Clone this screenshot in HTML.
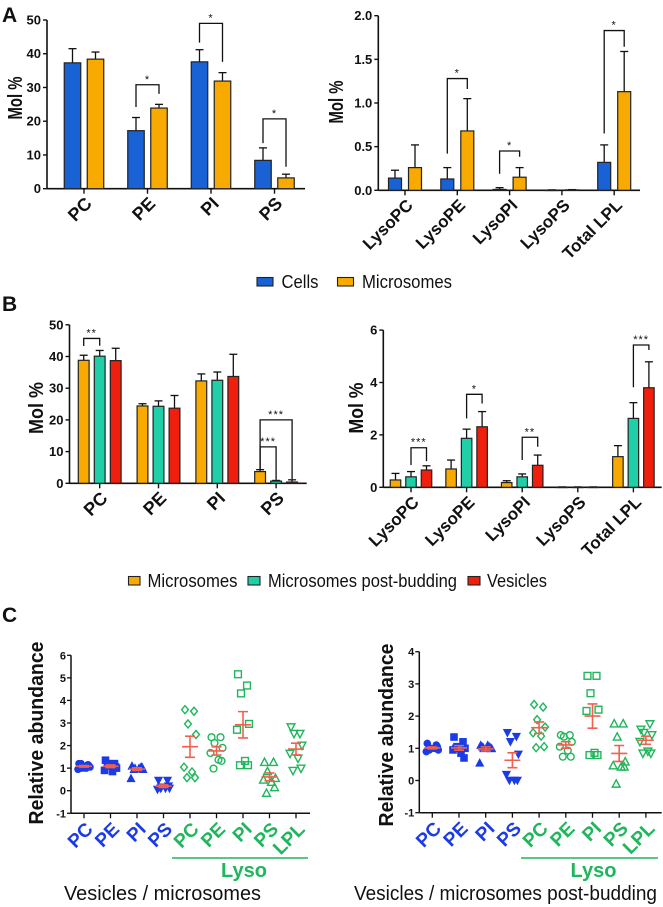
<!DOCTYPE html>
<html><head><meta charset="utf-8"><style>
html,body{margin:0;padding:0;background:#fff;}
svg{display:block;font-family:"Liberation Sans",Arial,sans-serif;}
</style></head><body>
<svg id="fig" width="663" height="907" viewBox="0 0 663 907" xmlns="http://www.w3.org/2000/svg"></svg>
<script>
// ---------- Panel A left ----------
const aLCats=['PC','PE','PI','PS'];
const aLCells=[37.3,17.2,37.6,8.4];
const aLCellsErr=[41.5,21.1,41.2,12.1];
const aLMicro=[38.4,23.9,31.9,3.2];
const aLMicroErr=[40.5,25.0,34.4,4.3];
const aLTicks=[0,10,20,30,40,50];
const aLSigCat=[1,2,3];const aLSigFrom=[0,0,0];const aLSigTo=[1,1,1];
const aLSigLevel=[30.8,49,20.7];const aLSigL=[24.2,43.3,13.5];const aLSigR=[28.1,37.6,6.5];const aLSigText=['*','*','*'];
// ---------- Panel A right ----------
const aRCats=['LysoPC','LysoPE','LysoPI','LysoPS','Total LPL'];
const aRCells=[0.14,0.13,0.01,0.003,0.32];
const aRCellsErr=[0.23,0.26,0.03,0.005,0.52];
const aRMicro=[0.26,0.68,0.15,0.005,1.13];
const aRMicroErr=[0.52,1.05,0.26,0.008,1.59];
const aRTicks=[0,0.5,1.0,1.5,2.0];
const aRSigCat=[1,2,4];const aRSigFrom=[0,0,0];const aRSigTo=[1,1,1];
const aRSigLevel=[1.28,0.45,1.83];const aRSigL=[0.42,0.19,0.65];const aRSigR=[1.16,0.385,1.645];const aRSigText=['*','*','*'];
// ---------- Panel B left ----------
const bLCats=['PC','PE','PI','PS'];
const bLMicro=[38.8,24.4,32.3,3.7];
const bLMicroErr=[40.4,25.1,34.5,4.3];
const bLPost=[40.1,24.3,32.5,0.7];
const bLPostErr=[41.9,26.0,35.1,0.9];
const bLVes=[38.7,23.7,33.7,0.4];
const bLVesErr=[42.6,27.7,40.7,1.1];
const bLTicks=[0,10,20,30,40,50];
const bLSigCat=[0,3,3];const bLSigFrom=[0,0,0];const bLSigTo=[1,1,2];
const bLSigLevel=[45.7,11.5,20];const bLSigL=[43.3,4.3,4.3];const bLSigR=[43.4,1.1,1.3];const bLSigText=['**','***','***'];
// ---------- Panel B right ----------
const bRCats=['LysoPC','LysoPE','LysoPI','LysoPS','Total LPL'];
const bRMicro=[0.28,0.7,0.18,0.01,1.17];
const bRMicroErr=[0.53,1.04,0.25,0.015,1.59];
const bRPost=[0.4,1.87,0.4,0.01,2.63];
const bRPostErr=[0.6,2.22,0.51,0.015,3.23];
const bRVes=[0.66,2.31,0.84,0.01,3.8];
const bRVesErr=[0.82,2.89,1.23,0.015,4.79];
const bRTicks=[0,2,4,6];
const bRSigCat=[0,1,2,4];const bRSigFrom=[1,1,1,1];const bRSigTo=[2,2,2,2];
const bRSigLevel=[1.51,3.55,1.91,5.43];const bRSigL=[0.85,2.63,1.04,3.82];const bRSigR=[1.0,3.2,1.55,5.24];const bRSigText=['***','*','**','***'];
// ---------- Panel C ----------
const cCats=['PC','PE','PI','PS','PC','PE','PI','PS','LPL'];
const cLeftTicks=[-1,0,1,2,3,4,5,6];
const cRightTicks=[-1,0,1,2,3,4];
const cLeftVals=[
 [1.2,1.15,1.0,1.05,0.95,1.0,1.1,1.2],
 [1.35,1.2,1.1,1.0,0.9,0.85,1.05,1.2],
 [1.1,1.05,1.0,0.95,0.55,1.0,1.05,0.95],
 [0.45,0.45,0.15,0.1,0.05,0.1,0.2,0.1],
 [3.59,3.52,2.96,2.49,1.04,0.83,0.58,0.58],
 [2.37,2.37,2.11,1.9,1.67,1.37,1.32,0.98],
 [5.16,4.66,4.31,2.96,2.70,1.32,1.13,1.13],
 [1.27,1.27,0.86,0.56,0.49,0.39,0.15,-0.1],
 [2.81,2.52,2.52,2.0,1.64,1.42,0.98,0.88]];
const cRightVals=[
 [1.15,1.1,1.0,0.95,0.9,1.0,1.05,0.95],
 [1.35,1.2,1.05,1.0,0.95,0.85,0.7,1.0],
 [1.1,1.05,1.0,1.0,0.55,1.1,1.0,1.05],
 [1.48,1.36,1.2,0.81,0.18,0.0,0.0,0.0],
 [2.36,2.28,1.89,1.66,1.48,1.38,1.05,1.02],
 [1.41,1.41,1.36,1.2,1.05,0.93,0.74,0.74],
 [3.25,3.25,2.71,2.2,2.16,0.86,0.79,0.79],
 [1.77,1.77,1.36,0.59,0.47,0.43,0.43,-0.1],
 [1.58,1.75,1.48,1.41,1.2,0.9,0.84,0.84]];

const NS='http://www.w3.org/2000/svg';
const svg=document.getElementById('fig');
function mk(tag,attrs,parent){const e=document.createElementNS(NS,tag);for(const k in attrs)e.setAttribute(k,attrs[k]);(parent||svg).appendChild(e);return e;}
function txt(s,attrs,parent){const e=mk('text',attrs,parent);e.textContent=s;return e;}

const BLUE='#1862d6',ORANGE='#f8aa00',TEAL='#1ecfa8',RED='#f01e0c';

function barChart(nm,cfg){
  const g=mk('g',{});
  
  
  const yS=v=>cfg.y0-v*cfg.ppu;
  const xS=i=>cfg.c0+i*cfg.sp;
  // axes
  const ya=mk('line',{x1:cfg.ax,y1:yS(cfg.ticks[cfg.ticks.length-1]),x2:cfg.ax,y2:cfg.y0,stroke:'#111','stroke-width':1.6},g);
  
  
  const xa=mk('line',{x1:cfg.ax,y1:cfg.y0,x2:cfg.xend,y2:cfg.y0,stroke:'#111','stroke-width':1.6},g);
  
  
  cfg.ticks.forEach(t=>{
    mk('line',{x1:cfg.ax-4,y1:yS(t),x2:cfg.ax,y2:yS(t),stroke:'#111','stroke-width':1.4},g);
    const tl=txt(cfg.fmt(t),{x:cfg.ax-6,y:yS(t)+4.5,'text-anchor':'end','font-size':13,'font-weight':'bold',fill:'#111'},g);
    
    
  });
  cfg.cats.forEach((c,i)=>{
    const x=xS(i);
    mk('line',{x1:x,y1:cfg.y0,x2:x,y2:cfg.y0+5,stroke:'#111','stroke-width':1.4},g);
    const bx=x+9,by=cfg.y0+16;
    const cl=txt(c,{x:bx,y:by,'text-anchor':'end','font-size':cfg.lfs,'font-weight':'bold',fill:'#111',transform:`rotate(-45 ${bx} ${by})`},g);
    
    
    cfg.series.forEach((s,k)=>{
      const cx=x+cfg.off[k];
      const v=s.vals[i],e=s.errs[i];
      mk('line',{x1:cx,y1:yS(v),x2:cx,y2:yS(e),stroke:'#111','stroke-width':1.3},g);
      mk('line',{x1:cx-4,y1:yS(e),x2:cx+4,y2:yS(e),stroke:'#111','stroke-width':1.3},g);
      const b=mk('rect',{x:cx-cfg.bw/2,y:yS(v),width:cfg.bw,height:Math.max(0.5,v*cfg.ppu),fill:s.color,stroke:'#222','stroke-width':1.2},g);
      
      
    });
  });
  cfg.sig.cat.forEach((c,j)=>{
    const x1=xS(c)+cfg.off[cfg.sig.from[j]],x2=xS(c)+cfg.off[cfg.sig.to[j]];
    const ly=yS(cfg.sig.level[j]);
    const p=mk('path',{d:`M${x1},${yS(cfg.sig.l[j])}V${ly}H${x2}V${yS(cfg.sig.r[j])}`,fill:'none',stroke:'#111','stroke-width':1.3},g);
    
    
    const st=txt(cfg.sig.text[j],{x:(x1+x2)/2,y:ly-2,'text-anchor':'middle','font-size':11,fill:'#111','letter-spacing':1},g);
    
    
  });
  const tt=txt('Mol %',{x:cfg.tx,y:cfg.ty+7,'text-anchor':'middle','font-size':20,'font-weight':'bold',fill:'#111',textLength:cfg.tlen,lengthAdjust:'spacingAndGlyphs',transform:`rotate(-90 ${cfg.tx} ${cfg.ty})`},g);
  
  
}
const f0=t=>String(t), f1=t=>t.toFixed(1);

barChart('chart-a-phospholipids',{ax:47,xend:305,y0:188.7,ppu:3.374,ticks:aLTicks,fmt:f0,cats:aLCats,c0:84,sp:63.5,off:[-11.5,11.5],bw:16.5,lfs:18,
 series:[{name:'cells',vals:aLCells,errs:aLCellsErr,color:BLUE},{name:'microsomes',vals:aLMicro,errs:aLMicroErr,color:ORANGE}],
 sig:{cat:aLSigCat,from:aLSigFrom,to:aLSigTo,level:aLSigLevel,l:aLSigL,r:aLSigR,text:aLSigText},tx:15,ty:98,tlen:43});
barChart('chart-a-lysophospholipids',{ax:378.3,xend:640,y0:190.3,ppu:87.3,ticks:aRTicks,fmt:f1,cats:aRCats,c0:405,sp:52.3,off:[-10,10],bw:13,lfs:17,
 series:[{name:'cells',vals:aRCells,errs:aRCellsErr,color:BLUE},{name:'microsomes',vals:aRMicro,errs:aRMicroErr,color:ORANGE}],
 sig:{cat:aRSigCat,from:aRSigFrom,to:aRSigTo,level:aRSigLevel,l:aRSigL,r:aRSigR,text:aRSigText},tx:336,ty:102,tlen:43});
barChart('chart-b-phospholipids',{ax:69.5,xend:306.7,y0:483.3,ppu:3.17,ticks:bLTicks,fmt:f0,cats:bLCats,c0:99.7,sp:58.8,off:[-16,0,16],bw:10.8,lfs:18,
 series:[{name:'microsomes',vals:bLMicro,errs:bLMicroErr,color:ORANGE},{name:'post-budding',vals:bLPost,errs:bLPostErr,color:TEAL},{name:'vesicles',vals:bLVes,errs:bLVesErr,color:RED}],
 sig:{cat:bLSigCat,from:bLSigFrom,to:bLSigTo,level:bLSigLevel,l:bLSigL,r:bLSigR,text:bLSigText},tx:36,ty:408,tlen:52});
barChart('chart-b-lysophospholipids',{ax:383.3,xend:661.7,y0:487.3,ppu:26.2,ticks:bRTicks,fmt:f0,cats:bRCats,c0:411,sp:55.6,off:[-15.5,0,15.5],bw:10.5,lfs:17,
 series:[{name:'microsomes',vals:bRMicro,errs:bRMicroErr,color:ORANGE},{name:'post-budding',vals:bRPost,errs:bRPostErr,color:TEAL},{name:'vesicles',vals:bRVes,errs:bRVesErr,color:RED}],
 sig:{cat:bRSigCat,from:bRSigFrom,to:bRSigTo,level:bRSigLevel,l:bRSigL,r:bRSigR,text:bRSigText},tx:356,ty:408,tlen:51});

// Panel letters
[['A',2,22],['B',2,311],['C',2,622]].forEach(([s,x,y])=>{
  const t=txt(s,{x:x,y:y,'font-size':21,'font-weight':'bold',fill:'#111'});
  
  
});

// Legends
function legend(nm,items,cy){
  const g=mk('g',{});
  
  
  items.forEach(it=>{
    const r=mk('rect',{x:it.bx,y:cy-4,width:it.bw,height:8.5,fill:it.color,stroke:'#222','stroke-width':1.1},g);
    
    
    const t=txt(it.label,{x:it.tx,y:cy+6.5,'font-size':18,fill:'#111',textLength:it.tl,lengthAdjust:'spacingAndGlyphs'},g);
    
    
  });
}
legend('legend-a',[{bx:257,bw:16,color:BLUE,label:'Cells',tx:281.5,tl:37},{bx:337.5,bw:16,color:ORANGE,label:'Microsomes',tx:362,tl:90}],281.5);
legend('legend-b',[{bx:128.5,bw:11.5,color:ORANGE,label:'Microsomes',tx:147.5,tl:90},{bx:248,bw:12,color:TEAL,label:'Microsomes post-budding',tx:268,tl:189},{bx:468,bw:12,color:RED,label:'Vesicles',tx:487,tl:60}],580.5);

// Panel C scatter
const jit=[-5,4,-2,6,-6,2,5,-3];
function marker(g,shape,x,y,col){
  let e;const s=3.4;
  const filled=shape.indexOf('o')!==0;
  const fill=filled?col:'none';
  const common={fill:fill,stroke:col,'stroke-width':filled?0.8:1.4};
  const sh=filled?shape:shape.slice(1);
  if(sh==='circle') e=mk('circle',Object.assign({cx:x,cy:y,r:s},common),g);
  else if(sh==='square') e=mk('rect',Object.assign({x:x-s,y:y-s,width:2*s,height:2*s},common),g);
  else if(sh==='tri') e=mk('path',Object.assign({d:`M${x},${y-s-0.5}L${x+s+0.5},${y+s}L${x-s-0.5},${y+s}Z`},common),g);
  else if(sh==='tridown') e=mk('path',Object.assign({d:`M${x-s-0.5},${y-s}L${x+s+0.5},${y-s}L${x},${y+s+0.5}Z`},common),g);
  else e=mk('path',Object.assign({d:`M${x},${y-s-0.6}L${x+s},${y}L${x},${y+s+0.6}L${x-s},${y}Z`},common),g);
  
  
}
const shapes=['circle','square','tri','tridown','odiamond','ocircle','osquare','otri','otridown'];
function scatter(nm,cfg){
  const g=mk('g',{});
  
  
  const yS=v=>cfg.y0-v*cfg.ppu;
  const xS=i=>cfg.c0+i*cfg.sp;
  const top=cfg.ticks[cfg.ticks.length-1],bot=cfg.ticks[0];
  const ya=mk('line',{x1:cfg.ax,y1:yS(top),x2:cfg.ax,y2:yS(bot),stroke:'#111','stroke-width':1.5},g);
  
  
  const xa=mk('line',{x1:cfg.ax,y1:yS(bot),x2:cfg.xend,y2:yS(bot),stroke:'#111','stroke-width':1.5},g);
  
  
  cfg.ticks.forEach(t=>{
    mk('line',{x1:cfg.ax-4,y1:yS(t),x2:cfg.ax,y2:yS(t),stroke:'#111','stroke-width':1.3},g);
    const tl=txt(String(t),{x:cfg.ax-5,y:yS(t)+4,'text-anchor':'end','font-size':11,'font-weight':'bold',fill:'#111'},g);
    
    
  });
  const axY=yS(bot);
  cfg.cats.forEach((c,i)=>{
    const x=xS(i);
    mk('line',{x1:x,y1:axY,x2:x,y2:axY+5,stroke:'#111','stroke-width':1.3},g);
    const col=i<4?'#1a3be6':'#1fb65c';
    const bx=x+10,by=axY+17;
    const cl=txt(c,{x:bx,y:by,'text-anchor':'end','font-size':19,'font-weight':'bold',fill:col,transform:`rotate(-45 ${bx} ${by})`},g);
    
    
    const vals=cfg.vals[i];
    const col2=i<4?'#1a3be6':'#1fb65c';
    vals.forEach((v,k)=>marker(g,shapes[i],x+jit[k],yS(v),col2));
    const n=vals.length,m=vals.reduce((a,b)=>a+b,0)/n;
    const sd=Math.sqrt(vals.reduce((a,b)=>a+(b-m)*(b-m),0)/(n-1)),se=sd/Math.sqrt(n);
    const ms=mk('path',{d:`M${x-8},${yS(m)}H${x+8}M${x},${yS(m+se)}V${yS(m-se)}M${x-5},${yS(m+se)}H${x+5}M${x-5},${yS(m-se)}H${x+5}`,stroke:'#f0604e','stroke-width':1.6,fill:'none'},g);
    
    
  });
  const ll=mk('line',{x1:cfg.lx1,y1:858,x2:cfg.lx2,y2:858,stroke:'#1fb65c','stroke-width':1.5},g);
  
  
  const lt=txt('Lyso',{x:(cfg.lx1+cfg.lx2)/2+4,y:877,'text-anchor':'middle','font-size':20,'font-weight':'bold',fill:'#1fb65c'},g);
  
  
  const sub=txt(cfg.sub,{x:cfg.sx,y:900,'font-size':20,fill:'#111',textLength:cfg.sl,lengthAdjust:'spacingAndGlyphs'},g);
  
  
  const tt=txt('Relative abundance',{x:cfg.tx,y:cfg.ty+7,'text-anchor':'middle','font-size':20,'font-weight':'bold',fill:'#111',textLength:183,lengthAdjust:'spacingAndGlyphs',transform:`rotate(-90 ${cfg.tx} ${cfg.ty})`},g);
  
  
}
scatter('chart-c-vesicles-vs-microsomes',{ax:71,xend:310,y0:790.7,ppu:22.57,ticks:cLeftTicks,cats:cCats,vals:cLeftVals,c0:84,sp:26.5,lx1:172,lx2:308,sub:'Vesicles / microsomes',sx:64,sl:197,tx:36,ty:733});
scatter('chart-c-vesicles-vs-post-budding',{ax:419.3,xend:661.7,y0:780.5,ppu:32.2,ticks:cRightTicks,cats:cCats,vals:cRightVals,c0:432.3,sp:26.7,lx1:521,lx2:658,sub:'Vesicles / microsomes post-budding',sx:354,sl:303,tx:386,ty:735});
</script>
</body></html>
